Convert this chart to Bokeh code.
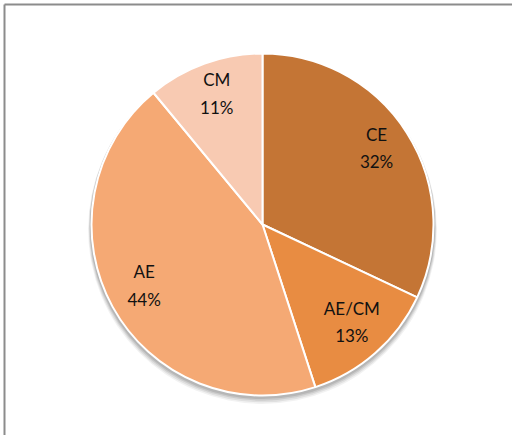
import numpy as np
from bokeh.plotting import figure
from bokeh.models import Range1d, ColumnDataSource
from bokeh.core.properties import value
from bokeh.embed import file_html
from bokeh.resources import INLINE

categories = ["CE", "AE/CM", "AE", "CM"]
percents = [32, 13, 44, 11]
colors = ["#C47535", "#E88C42", "#F5A974", "#F8CAB2"]

# figure placement (image pixels)
ORG = 0
W, H = 512, 435
CX, CY, R = 262, -224, 171

p = figure(width=W, height=H, output_backend="svg", toolbar_location=None,
           x_range=Range1d(ORG, ORG + W), y_range=Range1d(-(ORG + H), -ORG),
           min_border=0, outline_line_color=None)
p.axis.visible = False
p.grid.visible = False
p.background_fill_color = "white"
p.border_fill_color = "white"

frac = np.array(percents, dtype=float) / sum(percents)
cum = np.cumsum(frac)
prev = np.concatenate([[0.0], cum[:-1]])
start = np.pi / 2 - prev * 2 * np.pi
end = np.pi / 2 - cum * 2 * np.pi
mid = (start + end) / 2

# chart-area frame (top and left edges visible)
p.segment(x0=[4, 4], y0=[-4, -4], x1=[W + 10, 4], y1=[-4, -(H + 10)],
          line_color="#8c8c8c", line_width=2)

# soft shadow
for i, (dy, a) in enumerate([(5, 0.05), (4, 0.07), (3, 0.09), (2, 0.1)]):
    p.circle(x=[CX], y=[CY - dy], radius=R + 1 + (4 - i) * 0.6,
             fill_color="black", fill_alpha=a, line_color=None)

src = ColumnDataSource(dict(cat=categories, pct=percents, color=colors,
                            start=start, end=end,
                            lx=CX + 0.79 * R * np.cos(mid),
                            ly=CY + 0.79 * R * np.sin(mid) + 4,
                            label=[f"{c}\n{v}%" for c, v in zip(categories, percents)]))

p.wedge(x=CX, y=CY, radius=R, start_angle="start", end_angle="end",
        direction="clock", fill_color="color", line_color="white",
        line_width=2, source=src)

p.text(x="lx", y="ly", text="label", source=src, text_align="center",
       text_baseline="middle", text_font=value("Lato"), text_font_size="17px",
       text_color="#111111", text_line_height=1.3)

open("out.html", "w").write(file_html(p, INLINE))
